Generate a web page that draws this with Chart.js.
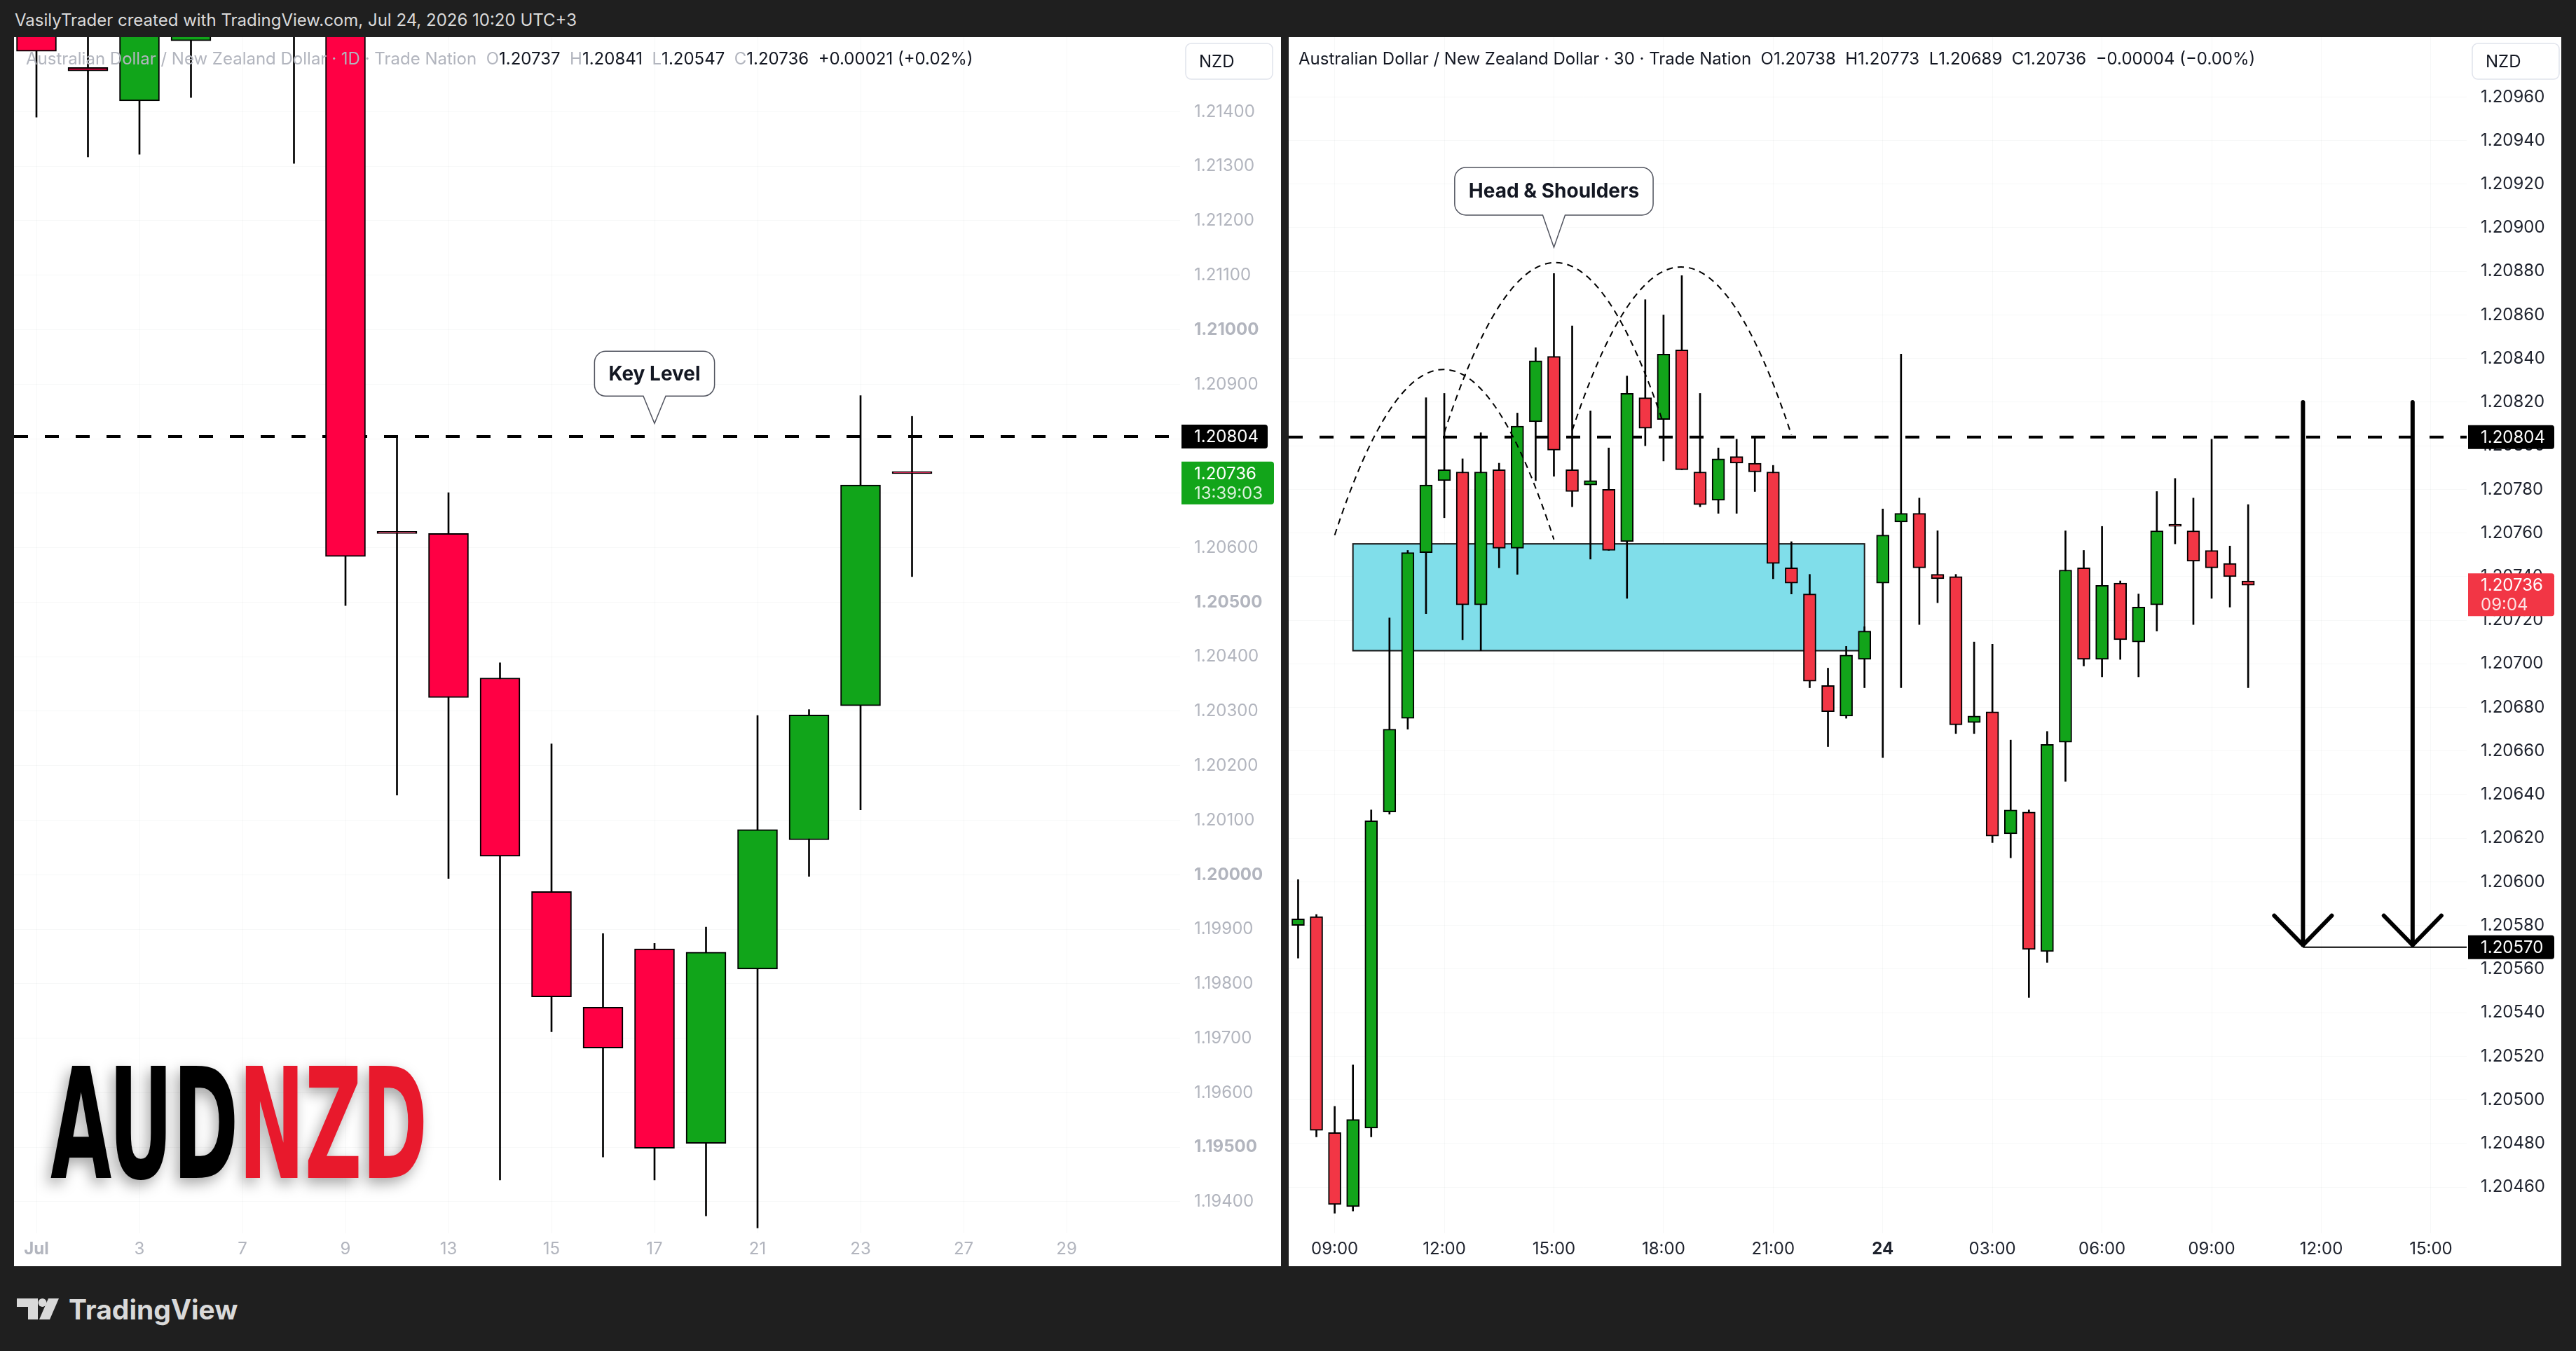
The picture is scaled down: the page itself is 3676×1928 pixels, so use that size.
<!DOCTYPE html>
<html lang="en">
<head>
<meta charset="utf-8">
<title>AUDNZD</title>
<script src="https://cdn.jsdelivr.net/npm/chart.js@4.4.1/dist/chart.umd.min.js"></script>
<style>
  html, body { margin: 0; padding: 0; background: #1f1f1f; }
  body { width: 3676px; height: 1928px; position: relative; overflow: hidden; font-family: Inter, "Noto Sans", sans-serif; }
  #header { position: absolute; left: 21px; top: 14px; color: #dadada; font-size: 24px; line-height: 30px; white-space: nowrap; }
  .panel { position: absolute; top: 53px; height: 1754px; background: #fff; }
  .panel canvas { display: block; }
  #leftPanel { left: 20px; width: 1808px; }
  #rightPanel { left: 1839px; width: 1816px; }
  #logo { position: absolute; left: 24px; top: 1845px; height: 46px; display: flex; align-items: center; gap: 14px; color: #d9d9d9; font-weight: 700; font-size: 39px; }
</style>
</head>
<body>
<div id="header">VasilyTrader created with TradingView.com, Jul 24, 2026 10:20 UTC+3</div>
<div class="panel" id="leftPanel"><canvas id="dailyChart" width="1808" height="1754"></canvas></div>
<div class="panel" id="rightPanel"><canvas id="m30Chart" width="1816" height="1754"></canvas></div>
<div id="logo">
  <svg width="60" height="30" viewBox="0 0 60 30"><path d="M0 0H30V30H16V12H0Z" fill="#d9d9d9"/><circle cx="36.5" cy="6" r="6" fill="#d9d9d9"/><path d="M45 0H60L47 30H32Z" fill="#d9d9d9"/></svg>
  <span>TradingView</span>
</div>
<script>
"use strict";

// ---- daily candles (left pane) ----
const dayLabels = ['Jul 1', 'Jul 2', 'Jul 3', 'Jul 6', 'Jul 7', 'Jul 8', 'Jul 9', 'Jul 10', 'Jul 13', 'Jul 14', 'Jul 15', 'Jul 16', 'Jul 17', 'Jul 20', 'Jul 21', 'Jul 22', 'Jul 23', 'Jul 24'];
const dayOpen  = [1.21620, 1.21481, 1.21420, 1.21530, 1.21580, 1.21640, 1.21590, 1.20630, 1.20626, 1.20361, 1.19969, 1.19757, 1.19864, 1.19507, 1.19827, 1.20064, 1.20310, 1.20737];
const dayHigh  = [1.21650, 1.21600, 1.21650, 1.21620, 1.21680, 1.21700, 1.21620, 1.20804, 1.20701, 1.20389, 1.20240, 1.19892, 1.19874, 1.19904, 1.20292, 1.20303, 1.20879, 1.20841];
const dayLow   = [1.21390, 1.21317, 1.21322, 1.21426, 1.21545, 1.21305, 1.20494, 1.20146, 1.19993, 1.19440, 1.19712, 1.19482, 1.19440, 1.19374, 1.19352, 1.19997, 1.20119, 1.20547];
const dayClose = [1.21511, 1.21475, 1.21600, 1.21580, 1.21620, 1.21600, 1.20584, 1.20626, 1.20325, 1.20034, 1.19776, 1.19682, 1.19498, 1.19858, 1.20083, 1.20293, 1.20715, 1.20736];

const dayTickPos  = [0, 2, 4, 6, 8, 10, 12, 14, 16, 18, 20];
const dayTickText = ['Jul', '3', '7', '9', '13', '15', '17', '21', '23', '27', '29'];
const dayPriceTicks = [1.214, 1.213, 1.212, 1.211, 1.210, 1.209, 1.208, 1.207, 1.206, 1.205, 1.204, 1.203, 1.202, 1.201, 1.200, 1.199, 1.198, 1.197, 1.196, 1.195, 1.194];
const dayBoldTicks = [1.210, 1.205, 1.200, 1.195];

// ---- 30 minute candles (right pane) ----
const m30Times = ['08:00', '08:30', '09:00', '09:30', '10:00', '10:30', '11:00', '11:30', '12:00', '12:30', '13:00', '13:30', '14:00', '14:30', '15:00', '15:30', '16:00', '16:30', '17:00', '17:30', '18:00', '18:30', '19:00', '19:30', '20:00', '20:30', '21:00', '21:30', '22:00', '22:30', '23:00', '23:30',
  '00:00', '00:30', '01:00', '01:30', '02:00', '02:30', '03:00', '03:30', '04:00', '04:30', '05:00', '05:30', '06:00', '06:30', '07:00', '07:30', '08:00', '08:30', '09:00', '09:30', '10:00'];
const m30Open  = [1.20580, 1.20584, 1.20485, 1.20451, 1.20487, 1.20632, 1.20675, 1.20751, 1.20784, 1.20788,
  1.20727, 1.20789, 1.20753, 1.20811, 1.20841, 1.20789, 1.20782, 1.20780, 1.20756, 1.20822,
  1.20812, 1.20844, 1.20788, 1.20775, 1.20795, 1.20792, 1.20788, 1.20744, 1.20732, 1.20690,
  1.20676, 1.20702, 1.20737, 1.20765, 1.20769, 1.20741, 1.20740, 1.20673, 1.20678, 1.20622,
  1.20632, 1.20568, 1.20664, 1.20744, 1.20702, 1.20737, 1.20710, 1.20727, 1.20764, 1.20761,
  1.20752, 1.20746, 1.20738];
const m30High  = [1.20601, 1.20585, 1.20497, 1.20516, 1.20633, 1.20721, 1.20752, 1.20822, 1.20824, 1.20794,
  1.20806, 1.20792, 1.20815, 1.20845, 1.20879, 1.20855, 1.20816, 1.20799, 1.20832, 1.20867,
  1.20860, 1.20878, 1.20824, 1.20799, 1.20803, 1.20804, 1.20791, 1.20756, 1.20741, 1.20698,
  1.20708, 1.20717, 1.20771, 1.20842, 1.20776, 1.20761, 1.20741, 1.20710, 1.20709, 1.20665,
  1.20633, 1.20669, 1.20761, 1.20752, 1.20763, 1.20738, 1.20732, 1.20779, 1.20785, 1.20776,
  1.20803, 1.20754, 1.20773];
const m30Low   = [1.20565, 1.20483, 1.20448, 1.20449, 1.20483, 1.20631, 1.20670, 1.20723, 1.20767, 1.20711,
  1.20706, 1.20744, 1.20741, 1.20784, 1.20786, 1.20772, 1.20748, 1.20752, 1.20730, 1.20800,
  1.20793, 1.20789, 1.20772, 1.20769, 1.20769, 1.20779, 1.20739, 1.20732, 1.20689, 1.20662,
  1.20675, 1.20689, 1.20657, 1.20689, 1.20718, 1.20728, 1.20668, 1.20668, 1.20618, 1.20611,
  1.20547, 1.20563, 1.20646, 1.20699, 1.20694, 1.20702, 1.20694, 1.20715, 1.20755, 1.20718,
  1.20730, 1.20726, 1.20689];
const m30Close = [1.20583, 1.20486, 1.20452, 1.20491, 1.20628, 1.20670, 1.20751, 1.20782, 1.20789, 1.20727,
  1.20788, 1.20753, 1.20809, 1.20839, 1.20798, 1.20779, 1.20784, 1.20752, 1.20824, 1.20808,
  1.20842, 1.20789, 1.20773, 1.20794, 1.20792, 1.20788, 1.20746, 1.20737, 1.20692, 1.20678,
  1.20704, 1.20715, 1.20759, 1.20769, 1.20744, 1.20739, 1.20672, 1.20676, 1.20621, 1.20633,
  1.20569, 1.20663, 1.20743, 1.20702, 1.20736, 1.20711, 1.20726, 1.20761, 1.20763, 1.20747,
  1.20744, 1.20740, 1.20736];

const m30TickPos  = [2, 8, 14, 20, 26, 32, 38, 44, 50, 56, 62];
const m30TickText = ['09:00', '12:00', '15:00', '18:00', '21:00', '24', '03:00', '06:00', '09:00', '12:00', '15:00'];
const m30PriceTicks = [1.2096, 1.2094, 1.2092, 1.2090, 1.2088, 1.2086, 1.2084, 1.2082, 1.2080, 1.2078, 1.2076, 1.2074, 1.2072,
  1.2070, 1.2068, 1.2066, 1.2064, 1.2062, 1.2060, 1.2058, 1.2056, 1.2054, 1.2052, 1.2050, 1.2048, 1.2046];

// ---- drawings ----
const keyLevel = 1.20804;
const targetLevel = 1.20570;
const keyNote = { pos: 12, price: 1.20828, text: 'Key Level' };
const hsNote = { pos: 14, price: 1.20891, text: 'Head & Shoulders' };
const hsArcs = [
  [[2, 1.20759], [8, 1.20835], [14, 1.20757]],
  [[8, 1.20806], [14, 1.20884], [20, 1.20810]],
  [[15, 1.20807], [21, 1.20882], [27, 1.20805]]
];
const zone = { from: 3, to: 31, low: 1.20706, high: 1.20755 };
const arrowPos = [55, 61];
const arrowTop = 1.20820;
const dayCountdown = '13:39:03';
const m30Countdown = '09:04';

const GRID = 'rgba(42, 46, 57, 0.035)';
Chart.defaults.font.family = 'Inter, "Noto Sans", sans-serif';

function fmt(v) { return v.toFixed(5); }

function isIn(list, v) { return list.some(b => Math.abs(b - v) < 1e-9); }

// bodies as floating bars, wicks as thin floating bars
function candleSets(open, high, low, close, up, down, bodyW) {
  return [
    {
      type: 'bar',
      data: open.map((o, i) => ({ x: i, y: [o, close[i]] })),
      backgroundColor: open.map((o, i) => close[i] >= o ? up : down),
      borderColor: '#000',
      borderWidth: 2,
      borderSkipped: false,
      barThickness: bodyW,
      minBarLength: 3,
      grouped: false,
      order: 0
    },
    {
      type: 'bar',
      data: low.map((l, i) => ({ x: i, y: [l, high[i]] })),
      backgroundColor: '#000',
      barThickness: 2,
      grouped: false,
      order: 1
    }
  ];
}

function keyLine(from, to) {
  return {
    type: 'line',
    data: [{ x: from, y: keyLevel }, { x: to, y: keyLevel }],
    borderColor: '#000',
    borderWidth: 4,
    borderDash: [20, 24],
    pointRadius: 0,
    order: 2
  };
}

function makeOptions(o) {
  return {
    responsive: false,
    animation: false,
    devicePixelRatio: 1,
    layout: { padding: 0 },
    plugins: { legend: { display: false }, tooltip: { enabled: false } },
    scales: {
      x: {
        type: 'linear',
        min: o.xMin,
        max: o.xMax,
        offset: false,
        afterBuildTicks: ax => { ax.ticks = o.tickPos.map(v => ({ value: v })); },
        afterFit: ax => { ax.height = 47; ax.paddingLeft = 0; ax.paddingRight = 0; },
        ticks: {
          autoSkip: false,
          maxRotation: 0,
          padding: 8,
          color: o.textColor,
          font: c => ({ size: 24, weight: (c.tick && c.tick.value === o.boldX) ? 'bold' : 'normal' }),
          callback: v => { const k = o.tickPos.indexOf(v); return k < 0 ? '' : o.tickText[k]; }
        },
        grid: { color: GRID, drawTicks: false, offset: false },
        border: { display: false }
      },
      y: {
        type: 'linear',
        position: 'right',
        min: o.yMin,
        max: o.yMax,
        afterBuildTicks: ax => { ax.ticks = o.priceTicks.map(v => ({ value: v })); },
        afterFit: ax => { ax.width = o.axisW; ax.paddingTop = 0; ax.paddingBottom = 0; },
        ticks: {
          autoSkip: false,
          padding: 20,
          color: o.textColor,
          font: c => ({ size: 24, weight: (c.tick && isIn(o.boldY, c.tick.value)) ? 'bold' : 'normal' }),
          callback: v => fmt(v)
        },
        grid: { color: GRID, drawTicks: false },
        border: { display: false }
      }
    }
  };
}

function rrPath(ctx, x, y, w, h, r) {
  ctx.beginPath();
  ctx.moveTo(x + r[0], y);
  ctx.arcTo(x + w, y, x + w, y + h, r[1]);
  ctx.arcTo(x + w, y + h, x, y + h, r[2]);
  ctx.arcTo(x, y + h, x, y, r[3]);
  ctx.arcTo(x, y, x + w, y, r[0]);
  ctx.closePath();
}

function drawCallout(ctx, tipX, tipY, text, gap, h) {
  ctx.save();
  ctx.font = 'bold 28px Inter, sans-serif';
  const w = ctx.measureText(text).width + 40, r = 16, half = 16;
  const x = tipX - w / 2, y = tipY - gap - h;
  ctx.beginPath();
  ctx.moveTo(x + r, y);
  ctx.arcTo(x + w, y, x + w, y + h, r);
  ctx.arcTo(x + w, y + h, x, y + h, r);
  ctx.lineTo(tipX + half, y + h);
  ctx.lineTo(tipX, tipY);
  ctx.lineTo(tipX - half, y + h);
  ctx.arcTo(x, y + h, x, y, r);
  ctx.arcTo(x, y, x + w, y, r);
  ctx.closePath();
  ctx.fillStyle = '#fff';
  ctx.fill();
  ctx.strokeStyle = '#50535e';
  ctx.lineWidth = 1.5;
  ctx.stroke();
  ctx.fillStyle = '#131722';
  ctx.textAlign = 'center';
  ctx.textBaseline = 'middle';
  ctx.fillText(text, tipX, y + h / 2 + 1);
  ctx.restore();
}

function drawUnitBox(ctx, area) {
  const x = area.right + 8, y = 9, w = 124, h = 51;
  ctx.save();
  rrPath(ctx, x, y, w, h, [8, 8, 8, 8]);
  ctx.fillStyle = '#fff';
  ctx.fill();
  ctx.strokeStyle = '#e0e3eb';
  ctx.lineWidth = 1.5;
  ctx.stroke();
  ctx.fillStyle = '#131722';
  ctx.font = '24px Inter, sans-serif';
  ctx.textBaseline = 'middle';
  ctx.fillText('NZD', x + 19, y + h / 2 + 1);
  ctx.restore();
}

function drawPriceTag(ctx, area, py, lines, bg, w) {
  const x = area.right + 2;
  const h = lines.length > 1 ? 61 : 34;
  ctx.save();
  rrPath(ctx, x, py - 17, w, h, [0, 4, 4, 0]);
  ctx.fillStyle = bg;
  ctx.fill();
  ctx.font = '24px Inter, sans-serif';
  ctx.textBaseline = 'middle';
  ctx.fillStyle = '#fff';
  ctx.fillText(lines[0], area.right + 20, py + 1);
  if (lines[1]) {
    ctx.fillStyle = 'rgba(255,255,255,0.85)';
    ctx.fillText(lines[1], area.right + 20, py + 29);
  }
  ctx.restore();
}

function drawLegend(ctx, x, y, parts) {
  ctx.save();
  ctx.font = '24px Inter, sans-serif';
  ctx.textBaseline = 'middle';
  let cx = x;
  for (const [t, c] of parts) {
    ctx.fillStyle = c;
    ctx.fillText(t, cx, y);
    cx += ctx.measureText(t).width;
  }
  ctx.restore();
}

function legendParts(title, o, h, l, c, prev, labelColor, valueColor) {
  const ch = c - prev;
  const sign = ch >= 0 ? '+' : '\u2212';
  const pct = Math.abs(ch / prev * 100).toFixed(2);
  return [
    [title, labelColor],
    ['  O', labelColor], [fmt(o), valueColor],
    ['  H', labelColor], [fmt(h), valueColor],
    ['  L', labelColor], [fmt(l), valueColor],
    ['  C', labelColor], [fmt(c), valueColor],
    ['  ' + sign + Math.abs(ch).toFixed(5) + ' (' + sign + pct + '%)', valueColor]
  ];
}

// big AUDNZD watermark, bottom left of the daily pane
function drawBrand(ctx) {
  ctx.save();
  ctx.font = 'bold 220px "Liberation Sans Narrow", "DejaVu Sans Condensed", "Liberation Sans", sans-serif';
  const wA = ctx.measureText('AUD').width;
  const wAll = ctx.measureText('AUDNZD').width;
  ctx.translate(52, 1628);
  ctx.scale(538 / wAll, 1);
  ctx.shadowColor = 'rgba(0,0,0,0.35)';
  ctx.shadowBlur = 20;
  ctx.shadowOffsetX = -5;
  ctx.shadowOffsetY = 8;
  ctx.textBaseline = 'alphabetic';
  ctx.fillStyle = '#000';
  ctx.fillText('AUD', 0, 0);
  ctx.fillStyle = '#e8192c';
  ctx.fillText('NZD', wA, 0);
  ctx.restore();
}

// ---- left: daily chart ----
const dayLast = dayClose.length - 1;
const dailyPlugin = {
  id: 'dailyOverlay',
  afterDatasetsDraw(chart) {
    const { ctx, scales: { x, y } } = chart;
    drawCallout(ctx, x.getPixelForValue(keyNote.pos), y.getPixelForValue(keyNote.price), keyNote.text, 39, 64);
  },
  afterDraw(chart) {
    const { ctx, chartArea, scales: { y } } = chart;
    drawUnitBox(ctx, chartArea);
    drawPriceTag(ctx, chartArea, y.getPixelForValue(keyLevel), [fmt(keyLevel)], '#000', 123);
    drawPriceTag(ctx, chartArea, y.getPixelForValue(dayClose[dayLast]), [fmt(dayClose[dayLast]), dayCountdown], '#12a51a', 132);
    drawLegend(ctx, 17, 32, legendParts('Australian Dollar / New Zealand Dollar \u00b7 1D \u00b7 Trade Nation',
      dayOpen[dayLast], dayHigh[dayLast], dayLow[dayLast], dayClose[dayLast], dayClose[dayLast - 1], '#b2b5be', '#131722'));
    drawBrand(ctx);
  }
};

new Chart(document.getElementById('dailyChart'), {
  type: 'bar',
  data: {
    labels: dayLabels,
    datasets: [
      ...candleSets(dayOpen, dayHigh, dayLow, dayClose, '#11a51a', '#ff0044', 57),
      keyLine(-0.4354, 21.99)
    ]
  },
  options: makeOptions({
    xMin: -0.4354, xMax: 22.204, yMin: 1.1934214, yMax: 1.215368,
    tickPos: dayTickPos, tickText: dayTickText, boldX: 0,
    priceTicks: dayPriceTicks, boldY: dayBoldTicks,
    axisW: 144, textColor: '#b2b5be'
  }),
  plugins: [dailyPlugin]
});

// ---- right: 30 minute chart ----
const m30Last = m30Close.length - 1;
const m30Plugin = {
  id: 'm30Overlay',
  beforeDatasetsDraw(chart) {
    const { ctx, scales: { x, y } } = chart;
    const x0 = x.getPixelForValue(zone.from), x1 = x.getPixelForValue(zone.to);
    const y0 = y.getPixelForValue(zone.high), y1 = y.getPixelForValue(zone.low);
    ctx.save();
    ctx.fillStyle = '#80deea';
    ctx.fillRect(x0, y0, x1 - x0, y1 - y0);
    ctx.strokeStyle = '#1a1a1a';
    ctx.lineWidth = 2;
    ctx.strokeRect(x0, y0, x1 - x0, y1 - y0);
    ctx.restore();
  },
  afterDatasetsDraw(chart) {
    const { ctx, chartArea, scales: { x, y } } = chart;
    ctx.save();
    // head & shoulders arcs
    ctx.strokeStyle = '#000';
    ctx.lineWidth = 2;
    ctx.setLineDash([9, 7]);
    for (const arc of hsArcs) {
      const p = arc.map(([i, v]) => [x.getPixelForValue(i), y.getPixelForValue(v)]);
      const cx = 2 * p[1][0] - (p[0][0] + p[2][0]) / 2;
      const cy = 2 * p[1][1] - (p[0][1] + p[2][1]) / 2;
      ctx.beginPath();
      ctx.moveTo(p[0][0], p[0][1]);
      ctx.quadraticCurveTo(cx, cy, p[2][0], p[2][1]);
      ctx.stroke();
    }
    ctx.setLineDash([]);
    // target line and arrows
    const ty = y.getPixelForValue(targetLevel);
    ctx.lineWidth = 2;
    ctx.beginPath();
    ctx.moveTo(x.getPixelForValue(arrowPos[0]), ty);
    ctx.lineTo(chartArea.right, ty);
    ctx.stroke();
    ctx.lineWidth = 6;
    ctx.lineCap = 'round';
    ctx.lineJoin = 'round';
    for (const a of arrowPos) {
      const ax = x.getPixelForValue(a), tip = ty - 3;
      ctx.beginPath();
      ctx.moveTo(ax, y.getPixelForValue(arrowTop));
      ctx.lineTo(ax, tip);
      ctx.moveTo(ax - 41, tip - 42);
      ctx.lineTo(ax, tip);
      ctx.lineTo(ax + 41, tip - 42);
      ctx.stroke();
    }
    ctx.restore();
    drawCallout(ctx, x.getPixelForValue(hsNote.pos), y.getPixelForValue(hsNote.price), hsNote.text, 46, 68);
  },
  afterDraw(chart) {
    const { ctx, chartArea, scales: { y } } = chart;
    drawUnitBox(ctx, chartArea);
    drawPriceTag(ctx, chartArea, y.getPixelForValue(keyLevel), [fmt(keyLevel)], '#000', 123);
    drawPriceTag(ctx, chartArea, y.getPixelForValue(m30Close[m30Last]), [fmt(m30Close[m30Last]), m30Countdown], '#f23645', 123);
    drawPriceTag(ctx, chartArea, y.getPixelForValue(targetLevel), [fmt(targetLevel)], '#000', 123);
    drawLegend(ctx, 14, 32, legendParts('Australian Dollar / New Zealand Dollar \u00b7 30 \u00b7 Trade Nation',
      m30Open[m30Last], m30High[m30Last], m30Low[m30Last], m30Close[m30Last], m30Close[m30Last - 1], '#131722', '#131722'));
  }
};

new Chart(document.getElementById('m30Chart'), {
  type: 'bar',
  data: {
    labels: m30Times,
    datasets: [
      ...candleSets(m30Open, m30High, m30Low, m30Close, '#12a41a', '#f23645', 18),
      keyLine(-0.516, 63.96)
    ]
  },
  options: makeOptions({
    xMin: -0.516, xMax: 63.96, yMin: 1.20438788, yMax: 1.20987415,
    tickPos: m30TickPos, tickText: m30TickText, boldX: 32,
    priceTicks: m30PriceTicks, boldY: [],
    axisW: 135, textColor: '#1e222d'
  }),
  plugins: [m30Plugin]
});
</script>
</body>
</html>
